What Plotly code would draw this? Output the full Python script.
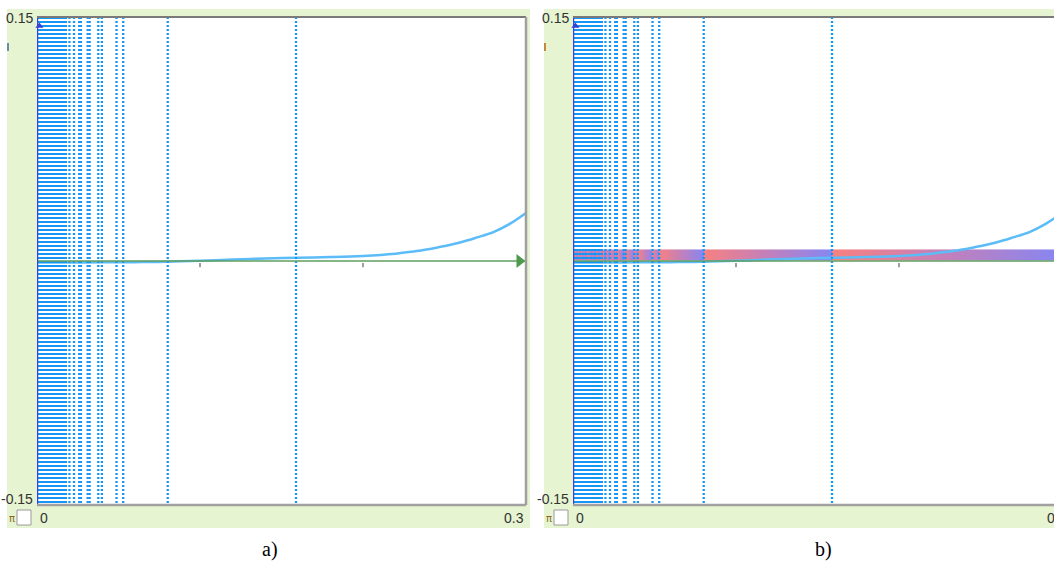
import numpy as np
import plotly.graph_objects as go

W, H = 1054, 562

# ---- data ----
dense_lines = [0.0006, 0.0015, 0.0024, 0.0033, 0.0042, 0.0051, 0.0060, 0.0069,
               0.0078, 0.0087, 0.0096, 0.0105, 0.0114, 0.0123, 0.0132, 0.0141,
               0.0150, 0.0159, 0.0168, 0.0177]
sparse_lines = [0.0199, 0.0227, 0.0259, 0.0269, 0.0311, 0.0323, 0.0376, 0.0398,
                0.0488, 0.0529, 0.0802, 0.1589]
curve_x = [0.0, 0.02, 0.04, 0.06, 0.08, 0.10, 0.12, 0.14, 0.16, 0.18, 0.20,
           0.22, 0.23, 0.24, 0.25, 0.26, 0.27, 0.28, 0.29, 0.30]
curve_y = [-0.0009, -0.0009, -0.0008, -0.0007, -0.0005, 0.0001, 0.0009, 0.0015,
           0.0020, 0.0024, 0.0031, 0.0045, 0.0057, 0.0072, 0.0092, 0.0115,
           0.0145, 0.0178, 0.0228, 0.0295]
band_range = [0.0005, 0.0071]
x_range = [0.0, 0.3]
y_range = [-0.15, 0.15]
x_tick_marks = [0.1, 0.2]
x_labels = ["0", "0.3"]
y_labels = ["0.15", "-0.15"]
captions = ["a)", "b)"]


def px(x):
    return x / W


def py(y):
    return 1 - y / H


all_lines = sorted(dense_lines + sparse_lines)

fig = go.Figure()

# panel geometry (pixels)
panels = [
    dict(bg=(7, 9, 530, 528), plot=(37, 17, 526, 505), xa="x", ya="y"),
    dict(bg=(544, 9, 1054, 528), plot=(573, 17, 1062, 505), xa="x2", ya="y2"),
]

# gradient band for panel b
edges = np.linspace(x_range[0], x_range[1], 1201)
centers = (edges[:-1] + edges[1:]) / 2
bounds = [x_range[0]] + all_lines + [x_range[1]]
z = []
for c in centers:
    for i in range(len(bounds) - 1):
        if bounds[i] <= c < bounds[i + 1]:
            z.append((c - bounds[i]) / (bounds[i + 1] - bounds[i]))
            break
    else:
        z.append(1.0)
fig.add_trace(go.Heatmap(
    x=edges, y=band_range, z=[z], xaxis="x2", yaxis="y2",
    colorscale=[[0, "#f87a7a"], [0.5, "#c07ab8"], [1, "#7f80f2"]],
    zmin=0, zmax=1, showscale=False, zsmooth=False, hoverinfo="skip", opacity=0.95))

for p in panels:
    xa, ya = p["xa"], p["ya"]
    # curve
    fig.add_trace(go.Scatter(x=curve_x, y=curve_y, mode="lines", xaxis=xa, yaxis=ya,
                             line=dict(color="#5cbcf7", width=2.5, shape="spline",
                                       smoothing=1.0),
                             hoverinfo="skip"))
    # dotted vertical lines
    lx, ly = [], []
    for v in all_lines:
        lx += [v, v, None]
        ly += [y_range[1], y_range[0], None]
    fig.add_trace(go.Scatter(x=lx, y=ly, mode="lines", xaxis=xa, yaxis=ya,
                             line=dict(color="#1696f4", width=2.3, dash="2px,2px"),
                             hoverinfo="skip"))
    # x axis (green arrow)
    fig.add_trace(go.Scatter(x=x_range, y=[0, 0], mode="lines", xaxis=xa, yaxis=ya,
                             line=dict(color="#5f9e5f", width=1.5), hoverinfo="skip"))
    fig.add_trace(go.Scatter(x=[x_range[1] - 0.004], y=[0], mode="markers", xaxis=xa, yaxis=ya,
                             marker=dict(symbol="triangle-right", size=12, color="#4d9a4d"),
                             hoverinfo="skip"))
    # tick marks
    fig.add_trace(go.Scatter(x=x_tick_marks, y=[-0.0025] * len(x_tick_marks), mode="markers",
                             xaxis=xa, yaxis=ya,
                             marker=dict(symbol="line-ns", size=3,
                                         line=dict(color="#a0a0a0", width=2)),
                             hoverinfo="skip"))
    # y axis (blue)
    fig.add_trace(go.Scatter(x=[0, 0], y=y_range, mode="lines", xaxis=xa, yaxis=ya,
                             line=dict(color="#3444dc", width=2.5), cliponaxis=False,
                             hoverinfo="skip"))
    fig.add_trace(go.Scatter(x=[0.0015], y=[0.1445], mode="markers", xaxis=xa, yaxis=ya,
                             marker=dict(symbol="triangle-up", size=7, color="#3040d8"),
                             cliponaxis=False, hoverinfo="skip"))

shapes = []
annotations = []
for i, p in enumerate(panels):
    bx0, by0, bx1, by1 = p["bg"]
    x0, y0, x1, y1 = p["plot"]
    shapes.append(dict(type="rect", xref="paper", yref="paper", layer="below",
                       x0=px(bx0), x1=px(bx1), y0=py(by1), y1=py(by0),
                       fillcolor="#e6f4d1", line=dict(width=0)))
    shapes.append(dict(type="rect", xref="paper", yref="paper", layer="below",
                       x0=px(x0), x1=px(x1), y0=py(y1), y1=py(y0),
                       fillcolor="#ffffff", line=dict(width=0)))
    # borders
    shapes.append(dict(type="line", xref="paper", yref="paper", layer="above",
                       x0=px(x0), x1=px(x1), y0=py(y0), y1=py(y0),
                       line=dict(color="#7a7a7a", width=2)))
    shapes.append(dict(type="line", xref="paper", yref="paper", layer="above",
                       x0=px(x0), x1=px(x1), y0=py(y1), y1=py(y1),
                       line=dict(color="#a0a0a0", width=2.5)))
    shapes.append(dict(type="line", xref="paper", yref="paper", layer="above",
                       x0=px(x1), x1=px(x1), y0=py(y1), y1=py(y0),
                       line=dict(color="#a0a0a0", width=2.5)))
    # checkbox
    shapes.append(dict(type="rect", xref="paper", yref="paper", layer="above",
                       x0=px(bx0 + 10), x1=px(bx0 + 24), y0=py(525), y1=py(510),
                       fillcolor="#ffffff", line=dict(color="#9a9a9a", width=1)))
    # small mark on left edge
    shapes.append(dict(type="line", xref="paper", yref="paper", layer="above",
                       x0=px(bx0 + 1), x1=px(bx0 + 1), y0=py(51), y1=py(43),
                       line=dict(color="#6a90a0" if i == 0 else "#c08a3a", width=2)))

    font = dict(family="Liberation Sans, Arial, sans-serif", size=14, color="#333333")
    annotations.append(dict(text=y_labels[0], xref="paper", yref="paper", x=px(x0 - 2),
                            y=py(y0 + 1), xanchor="right", yanchor="middle", showarrow=False,
                            font=font))
    annotations.append(dict(text=y_labels[1], xref="paper", yref="paper", x=px(x0 - 2),
                            y=py(499), xanchor="right", yanchor="middle", showarrow=False,
                            font=font))
    annotations.append(dict(text=x_labels[0], xref="paper", yref="paper", x=px(x0 + 1),
                            y=py(518), xanchor="left", yanchor="middle", showarrow=False,
                            font=font))
    if i == 0:
        annotations.append(dict(text=x_labels[1], xref="paper", yref="paper", x=px(x1),
                                y=py(518), xanchor="right", yanchor="middle", showarrow=False,
                                font=font))
    else:
        annotations.append(dict(text=x_labels[1], xref="paper", yref="paper", x=px(1045),
                                y=py(518), xanchor="left", yanchor="middle", showarrow=False,
                                font=font))
    annotations.append(dict(text="π", xref="paper", yref="paper", x=px(bx0 + 5),
                            y=py(518), xanchor="center", yanchor="middle", showarrow=False,
                            font=dict(family="DejaVu Sans, sans-serif", size=10, color="#8a6a18")))
    annotations.append(dict(text=captions[i], xref="paper", yref="paper",
                            x=px((bx0 + bx1) / 2 + (1 if i == 0 else 24)), y=py(549),
                            xanchor="center", yanchor="middle", showarrow=False,
                            font=dict(family="Liberation Serif, Times New Roman, serif",
                                      size=20, color="#000000")))

b_xmax = x_range[1] * (W - 573) / (1062 - 573)

fig.update_layout(
    width=W, height=H,
    margin=dict(l=0, r=0, t=0, b=0),
    paper_bgcolor="#ffffff",
    plot_bgcolor="rgba(0,0,0,0)",
    showlegend=False,
    hovermode=False,
    shapes=shapes,
    annotations=annotations,
    xaxis=dict(domain=[px(37), px(526)], range=x_range, visible=False, fixedrange=True),
    yaxis=dict(domain=[py(505), py(17)], range=y_range, visible=False, fixedrange=True),
    xaxis2=dict(domain=[px(573), 1.0], range=[0, b_xmax], visible=False, fixedrange=True,
                anchor="y2"),
    yaxis2=dict(domain=[py(505), py(17)], range=y_range, visible=False, fixedrange=True,
                anchor="x2"),
)

fig.write_html("out.html", config={"displayModeBar": False},
               post_script="document.body.style.margin='0';document.body.style.overflow='hidden';")
